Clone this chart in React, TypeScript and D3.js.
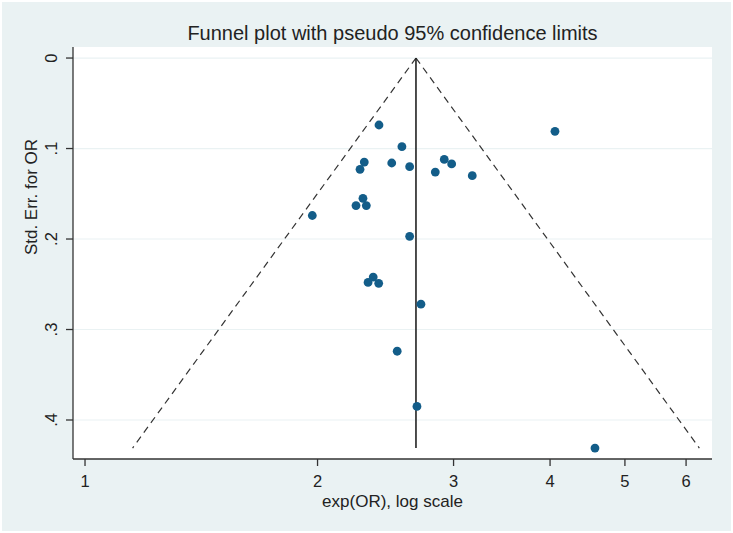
import { useEffect, useRef } from 'react';
import * as d3 from 'd3';

// study odds ratios (exp scale) and their standard errors
const orValues = [
  2.402, 2.572, 2.299, 2.270, 2.495, 2.632, 2.918, 2.983, 2.841, 3.172,
  2.290, 2.243, 2.313, 1.969, 2.632, 2.325, 2.361, 2.400, 2.722, 2.536,
  2.690, 4.059, 4.573,
];
const seValues = [
  0.074, 0.098, 0.115, 0.123, 0.116, 0.120, 0.112, 0.117, 0.126, 0.130,
  0.155, 0.163, 0.163, 0.174, 0.197, 0.248, 0.242, 0.249, 0.272, 0.324,
  0.385, 0.081, 0.431,
];
const pooledOR = 2.682;

const xTicks = [1, 2, 3, 4, 5, 6];
const yTicks = [0, 0.1, 0.2, 0.3, 0.4];
const yTickLabels = ['0', '.1', '.2', '.3', '.4'];

const FONT = '"Liberation Sans", Arial, sans-serif';

function FunnelPlot() {
  const svgRef = useRef<SVGSVGElement | null>(null);

  useEffect(() => {
    if (!svgRef.current) return;
    const svg = d3.select(svgRef.current);
    svg.selectAll('*').remove();

    const width = 733;
    const height = 533;
    const left = 73, right = 712, top = 47, bottom = 459;

    const x = d3.scaleLog().domain([0.9648, 6.482]).range([left, right]);
    const y = d3.scaleLinear().domain([-0.0122, 0.4431]).range([top, bottom]);

    // background
    svg.append('rect').attr('width', width).attr('height', height).attr('fill', '#ffffff');
    svg.append('rect')
      .attr('x', 2).attr('y', 2)
      .attr('width', width - 4).attr('height', height - 4)
      .attr('fill', '#eaf2f3');
    svg.append('rect')
      .attr('x', left).attr('y', top)
      .attr('width', right - left).attr('height', bottom - top)
      .attr('fill', '#ffffff');

    // grid lines
    svg.append('g')
      .selectAll('line')
      .data(yTicks)
      .join('line')
      .attr('x1', left).attr('x2', right)
      .attr('y1', (d) => y(d)).attr('y2', (d) => y(d))
      .attr('stroke', '#eaf2f3')
      .attr('stroke-width', 1.2);

    // pseudo 95% confidence limits
    const seMax = d3.max(seValues) as number;
    const lnPooled = Math.log(pooledOR);
    const funnelSe = [0, seMax];
    const limitLine = (sign: number) =>
      d3.line<number>()
        .x((s) => x(Math.exp(lnPooled + sign * 1.96 * s)))
        .y((s) => y(s));

    [-1, 1].forEach((sign) => {
      svg.append('path')
        .datum(funnelSe)
        .attr('d', limitLine(sign))
        .attr('fill', 'none')
        .attr('stroke', '#333333')
        .attr('stroke-width', 1.2)
        .attr('stroke-dasharray', '7,5');
    });

    // pooled estimate line
    svg.append('line')
      .attr('x1', x(pooledOR)).attr('x2', x(pooledOR))
      .attr('y1', y(0)).attr('y2', y(seMax))
      .attr('stroke', '#222222')
      .attr('stroke-width', 1.6);

    // study points
    svg.append('g')
      .selectAll('circle')
      .data(orValues.map((or, i) => ({ or, se: seValues[i] })))
      .join('circle')
      .attr('cx', (d) => x(d.or))
      .attr('cy', (d) => y(d.se))
      .attr('r', 4.4)
      .attr('fill', '#135d89');

    // axes
    const axisColor = '#333333';
    svg.append('line')
      .attr('x1', left).attr('x2', left).attr('y1', top).attr('y2', bottom)
      .attr('stroke', axisColor).attr('stroke-width', 1.3);
    svg.append('line')
      .attr('x1', left).attr('x2', right).attr('y1', bottom).attr('y2', bottom)
      .attr('stroke', axisColor).attr('stroke-width', 1.3);

    // x ticks
    const xg = svg.append('g');
    xg.selectAll('line')
      .data(xTicks)
      .join('line')
      .attr('x1', (d) => x(d)).attr('x2', (d) => x(d))
      .attr('y1', bottom).attr('y2', bottom + 7)
      .attr('stroke', axisColor).attr('stroke-width', 1.3);
    xg.selectAll('text')
      .data(xTicks)
      .join('text')
      .attr('x', (d) => x(d))
      .attr('y', 487)
      .attr('text-anchor', 'middle')
      .attr('font-family', FONT)
      .attr('font-size', 16.5)
      .attr('fill', '#222')
      .text((d) => String(d));

    // y ticks
    const yg = svg.append('g');
    yg.selectAll('line')
      .data(yTicks)
      .join('line')
      .attr('x1', left - 7).attr('x2', left)
      .attr('y1', (d) => y(d)).attr('y2', (d) => y(d))
      .attr('stroke', axisColor).attr('stroke-width', 1.3);
    yg.selectAll('text')
      .data(yTicks)
      .join('text')
      .attr('transform', (d) => `translate(57,${y(d)}) rotate(-90)`)
      .attr('text-anchor', 'middle')
      .attr('font-family', FONT)
      .attr('font-size', 16.5)
      .attr('fill', '#222')
      .text((_, i) => yTickLabels[i]);

    // titles
    svg.append('text')
      .attr('x', (left + right) / 2)
      .attr('y', 40)
      .attr('text-anchor', 'middle')
      .attr('font-family', FONT)
      .attr('font-size', 20)
      .attr('fill', '#222')
      .text('Funnel plot with pseudo 95% confidence limits');

    svg.append('text')
      .attr('x', (left + right) / 2)
      .attr('y', 507)
      .attr('text-anchor', 'middle')
      .attr('font-family', FONT)
      .attr('font-size', 17)
      .attr('fill', '#222')
      .text('exp(OR), log scale');

    svg.append('text')
      .attr('transform', 'translate(37,197) rotate(-90)')
      .attr('text-anchor', 'middle')
      .attr('font-family', FONT)
      .attr('font-size', 17)
      .attr('fill', '#222')
      .text('Std. Err. for OR');

    return () => {
      d3.select(svgRef.current).selectAll('*').remove();
    };
  }, []);

  return (
    <svg
      ref={svgRef}
      width={733}
      height={533}
      style={{ position: 'absolute', top: 0, left: 0, display: 'block' }}
    />
  );
}

export default function App() {
  return <FunnelPlot />;
}
